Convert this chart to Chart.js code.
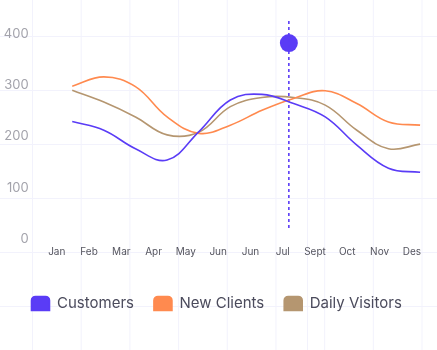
<!DOCTYPE html>
<html>
<head>
<meta charset="utf-8">
<script src="https://cdn.jsdelivr.net/npm/chart.js@4"></script>
<style>
  html, body { margin: 0; padding: 0; background: #fff; }
  .wrap {
    position: relative;
    width: 437px;
    height: 350px;
    background-color: #fff;
    background-image:
      linear-gradient(to right, transparent 307px, #f2f2fc 307px, #f2f2fc 308px, transparent 308px),
      linear-gradient(to right, #f2f2fc 1px, transparent 1px),
      linear-gradient(to bottom, #f2f2fc 1px, transparent 1px);
    background-size: 437px 350px, 48.7px 54px, 48.7px 54px;
    background-position: 0 0, 32px 0, 0 36px;
    background-repeat: no-repeat, repeat, repeat;
  }
</style>
</head>
<body>
<div class="wrap"><canvas id="chart"></canvas></div>
<script>
// month labels shown under the plot
const months = ['Jan', 'Feb', 'Mar', 'Apr', 'May', 'Jun', 'Jun', 'Jul', 'Sept', 'Oct', 'Nov', 'Des'];

// series values (one per month)
const customers    = [229, 212, 176, 154, 209, 271, 282, 264, 238, 183, 138, 130];
const newClients   = [298, 316, 297, 238, 206, 222, 251, 274, 289, 264, 228, 222];
const dailyVisitors = [290, 267, 238, 203, 208, 258, 276, 276, 261, 212, 176, 185];

const yTicks = [0, 100, 200, 300, 400];

// highlighted point + dashed guide
const markerPos = 6.85;
const markerValue = 382;
const guideRange = [425, 16];

const toPoints = arr => arr.map((v, i) => ({ x: i, y: v }));

const FONT = 'Inter, "Noto Sans", sans-serif';

const lineSet = (label, data, color) => ({
    label: label,
    data: toPoints(data),
    xAxisID: 'xd',
    borderColor: color,
    backgroundColor: color,
    borderWidth: 1.6,
    pointRadius: 0,
    tension: 0.4,
    fill: false
});

new Chart(document.getElementById('chart'), {
    type: 'line',
    data: {
        datasets: [
            lineSet('Customers', customers, '#5a3cf6'),
            lineSet('New Clients', newClients, '#ff8a4f'),
            lineSet('Daily Visitors', dailyVisitors, '#b59670'),
            {
                label: 'guide',
                data: guideRange.map(v => ({ x: markerPos, y: v })),
                xAxisID: 'xd',
                borderColor: '#5a3cf6',
                borderWidth: 1.6,
                borderDash: [3, 3],
                pointRadius: 0
            },
            {
                label: 'marker',
                data: [{ x: markerPos, y: markerValue }],
                xAxisID: 'xd',
                showLine: false,
                pointRadius: 9,
                pointBackgroundColor: '#5a3cf6',
                pointBorderWidth: 0
            }
        ]
    },
    options: {
        responsive: true,
        maintainAspectRatio: false,
        animation: false,
        layout: { padding: { top: 21, right: 3.7, bottom: 29, left: 0 } },
        plugins: {
            tooltip: { enabled: false },
            legend: {
                position: 'bottom',
                labels: {
                    filter: item => item.datasetIndex < 3,
                    boxWidth: 18,
                    boxHeight: 14,
                    useBorderRadius: true,
                    borderRadius: { topLeft: 4, topRight: 4, bottomLeft: 0, bottomRight: 0 },
                    padding: 20,
                    color: '#4b4b5c',
                    font: { family: FONT, size: 15 }
                }
            }
        },
        scales: {
            x: {
                type: 'category',
                labels: months,
                offset: true,
                grid: { display: false, drawTicks: false },
                border: { display: false },
                ticks: {
                    padding: 7,
                    color: '#55555f',
                    font: { family: FONT, size: 10 },
                    maxRotation: 0,
                    autoSkip: false
                },
                afterFit: s => { s.height = 37; }
            },
            xd: {
                type: 'linear',
                display: false,
                min: -1,
                max: 11.25
            },
            y: {
                min: 0,
                max: 425,
                grid: { display: false, drawTicks: false },
                border: { display: false },
                afterBuildTicks: s => { s.ticks = yTicks.map(v => ({ value: v })); },
                ticks: {
                    padding: 12,
                    color: '#a3a3ab',
                    font: { family: FONT, size: 13 }
                },
                afterFit: s => { s.width = 40.6; }
            }
        }
    }
});
</script>
</body>
</html>
